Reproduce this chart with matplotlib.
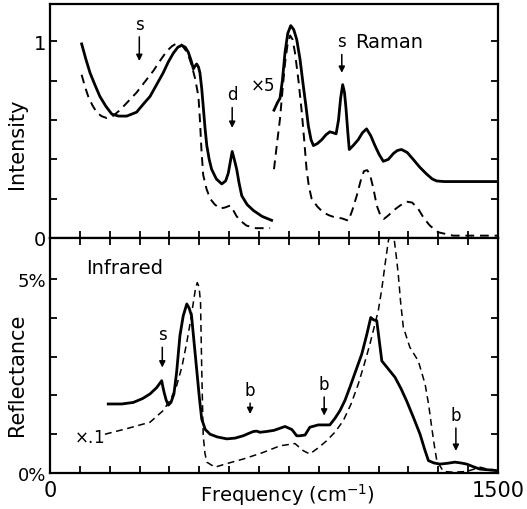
import numpy as np
import matplotlib
matplotlib.use('Agg')
import matplotlib.pyplot as plt

# ---- Raman, low-frequency part (x1) ----
raman_lo_x_solid = [106, 120, 134, 150, 167, 187, 207, 230, 257, 290, 312, 335, 357, 379, 396, 413, 428, 441, 453, 463, 473, 480, 486, 491, 497, 502, 508, 513, 519, 525, 533, 541, 557, 575, 588, 597, 604, 610, 617, 625, 633, 642, 660, 681, 710, 742]
raman_lo_y_solid = [0.987, 0.91, 0.84, 0.78, 0.72, 0.67, 0.63, 0.62, 0.62, 0.64, 0.68, 0.72, 0.78, 0.84, 0.895, 0.94, 0.97, 0.98, 0.97, 0.945, 0.90, 0.86, 0.875, 0.885, 0.87, 0.84, 0.76, 0.67, 0.56, 0.47, 0.40, 0.35, 0.30, 0.275, 0.29, 0.33, 0.39, 0.44, 0.40, 0.35, 0.28, 0.215, 0.17, 0.14, 0.11, 0.09]
raman_lo_x_dash = [106, 117, 128, 142, 156, 172, 190, 210, 234, 262, 290, 318, 346, 370, 391, 408, 424, 438, 452, 463, 474, 486, 497, 502, 507, 513, 524, 536, 552, 569, 586, 603, 614, 625, 640, 658, 690, 737]
raman_lo_y_dash = [0.83, 0.77, 0.72, 0.675, 0.64, 0.62, 0.61, 0.62, 0.65, 0.695, 0.74, 0.795, 0.85, 0.905, 0.95, 0.975, 0.99, 0.985, 0.96, 0.93, 0.88, 0.81, 0.72, 0.60, 0.45, 0.32, 0.25, 0.20, 0.17, 0.15, 0.155, 0.165, 0.14, 0.11, 0.085, 0.063, 0.05, 0.05]

# ---- Raman, high-frequency part (x5) ----
raman_hi_x_solid = [750, 762, 770, 778, 787, 796, 806, 816, 826, 837, 848, 857, 865, 874, 882, 895, 910, 924, 937, 948, 958, 966, 973, 980, 986, 991, 997, 1002, 1015, 1032, 1046, 1060, 1074, 1088, 1102, 1116, 1133, 1150, 1163, 1177, 1196, 1216, 1238, 1261, 1280, 1295, 1320, 1400, 1500]
raman_hi_y_solid = [0.65, 0.69, 0.71, 0.80, 0.945, 1.04, 1.08, 1.06, 1.01, 0.91, 0.775, 0.67, 0.57, 0.50, 0.47, 0.48, 0.50, 0.525, 0.54, 0.535, 0.53, 0.60, 0.71, 0.78, 0.74, 0.66, 0.54, 0.45, 0.47, 0.50, 0.535, 0.555, 0.52, 0.47, 0.425, 0.39, 0.40, 0.43, 0.445, 0.45, 0.435, 0.40, 0.36, 0.325, 0.30, 0.29, 0.287, 0.287, 0.287]
raman_hi_x_dash = [750, 760, 770, 779, 787, 795, 804, 812, 820, 832, 843, 851, 859, 867, 876, 895, 915, 935, 954, 977, 999, 1012, 1027, 1040, 1051, 1062, 1071, 1083, 1094, 1105, 1118, 1133, 1150, 1172, 1194, 1213, 1233, 1252, 1272, 1300, 1350, 1500]
raman_hi_y_dash = [0.35, 0.48, 0.605, 0.76, 0.89, 0.98, 1.03, 1.01, 0.945, 0.80, 0.64, 0.50, 0.35, 0.26, 0.20, 0.16, 0.13, 0.115, 0.105, 0.10, 0.088, 0.14, 0.215, 0.29, 0.34, 0.345, 0.325, 0.25, 0.165, 0.12, 0.097, 0.115, 0.14, 0.165, 0.185, 0.18, 0.148, 0.10, 0.063, 0.029, 0.012, 0.012]

# ---- Infrared reflectance (%) ----
ir_x_solid = [195, 240, 279, 310, 335, 357, 374, 378, 382, 389, 396, 405, 415, 424, 435, 446, 458, 466, 474, 482, 491, 500, 508, 520, 536, 560, 592, 620, 647, 665, 681, 692, 703, 725, 750, 787, 810, 826, 837, 854, 870, 898, 937, 955, 971, 988, 1004, 1024, 1044, 1060, 1074, 1083, 1094, 1111, 1133, 1155, 1175, 1194, 1217, 1239, 1254, 1267, 1285, 1306, 1330, 1356, 1375, 1395, 1418, 1440, 1470, 1495]
ir_y_solid = [1.78, 1.78, 1.82, 1.92, 2.04, 2.20, 2.38, 2.22, 2.08, 1.88, 1.75, 1.82, 2.04, 2.60, 3.54, 4.05, 4.36, 4.25, 4.05, 3.40, 2.68, 1.95, 1.39, 1.12, 1.00, 0.93, 0.88, 0.90, 0.96, 1.02, 1.07, 1.08, 1.05, 1.07, 1.10, 1.20, 1.12, 0.96, 0.96, 0.98, 1.18, 1.24, 1.24, 1.42, 1.61, 1.88, 2.21, 2.64, 3.07, 3.55, 4.01, 3.95, 3.93, 2.89, 2.68, 2.47, 2.18, 1.86, 1.43, 1.00, 0.62, 0.32, 0.26, 0.23, 0.25, 0.28, 0.26, 0.23, 0.16, 0.10, 0.08, 0.06]
ir_x_dash = [184, 260, 335, 379, 404, 424, 442, 458, 470, 480, 487, 493, 499, 504, 508, 513, 519, 525, 552, 600, 647, 710, 770, 820, 848, 870, 900, 926, 955, 982, 1008, 1032, 1052, 1071, 1085, 1099, 1111, 1122, 1133, 1143, 1153, 1160, 1166, 1174, 1183, 1205, 1233, 1256, 1268, 1278, 1287, 1295, 1317, 1350, 1395, 1420, 1440, 1465, 1495]
ir_y_dash = [1.00, 1.15, 1.31, 1.61, 1.90, 2.25, 2.75, 3.37, 3.90, 4.40, 4.75, 4.91, 4.80, 4.40, 2.68, 0.96, 0.50, 0.28, 0.15, 0.26, 0.36, 0.52, 0.70, 0.76, 0.575, 0.49, 0.66, 0.83, 1.06, 1.35, 1.78, 2.29, 2.80, 3.32, 3.75, 4.18, 4.75, 5.39, 5.99, 6.25, 5.99, 5.55, 5.13, 4.40, 3.76, 3.24, 2.89, 2.29, 1.75, 1.18, 0.70, 0.32, 0.04, 0.02, 0.04, 0.10, 0.15, 0.10, 0.08]

x_ticks = list(range(0, 1600, 100))
x_ticklabels = ['0'] + [''] * 14 + ['1500']
int_ticks = [0, 0.2, 0.4, 0.6, 0.8, 1.0]
int_ticklabels = ['0', '', '', '', '', '1']
ref_ticks = [0, 1, 2, 3, 4, 5]
ref_ticklabels = ['0%', '', '', '', '', '5%']

fig = plt.figure(figsize=(5.27, 5.10), dpi=100)
ax1 = fig.add_axes([50/527, 1-239/510, 448/527, 234/510])
ax2 = fig.add_axes([50/527, 1-474/510, 448/527, 235/510], sharex=ax1)

lw_s = 2.0
dash = (0, (4.5, 3))

ax1.plot(raman_lo_x_solid, raman_lo_y_solid, 'k-', lw=lw_s)
ax1.plot(raman_lo_x_dash, raman_lo_y_dash, 'k', ls=dash, lw=1.4)
ax1.plot(raman_hi_x_solid, raman_hi_y_solid, 'k-', lw=lw_s)
ax1.plot(raman_hi_x_dash, raman_hi_y_dash, 'k', ls=dash, lw=1.4)

ax2.plot(ir_x_solid, ir_y_solid, 'k-', lw=lw_s)
ax2.plot(ir_x_dash, ir_y_dash, 'k', ls=dash, lw=1.1)

ax1.set_xlim(0, 1500)
ax1.set_ylim(0, 1.19)
ax2.set_ylim(0, 6.06)

ax1.set_yticks(int_ticks)
ax1.set_yticklabels(int_ticklabels, fontsize=14)
ax2.set_yticks(ref_ticks)
ax2.set_yticklabels(ref_ticklabels, fontsize=13)
ax2.set_xticks(x_ticks)
ax2.set_xticklabels(x_ticklabels, fontsize=15)

ax1.tick_params(axis='both', direction='in', length=5, width=1.3,
                left=True, right=True, top=False, bottom=True,
                labelbottom=False, pad=3)
ax2.tick_params(axis='both', direction='in', length=5, width=1.3,
                left=True, right=True, top=True, bottom=True, pad=3)
ax2.tick_params(axis='x', pad=5)

for ax in (ax1, ax2):
    for sp in ax.spines.values():
        sp.set_linewidth(1.6)

ax2.set_xlabel(r'Frequency (cm$^{-1}$)', fontsize=14)
ax2.xaxis.set_label_coords(0.53, -0.035)
fig.text(17/527, 1-144/510, 'Intensity', rotation=90, fontsize=15, ha='center', va='center')
fig.text(17/527, 1-375/510, 'Reflectance', rotation=90, fontsize=15, ha='center', va='center')

arr = dict(arrowstyle='-|>', color='k', lw=1.1, mutation_scale=9, shrinkA=1, shrinkB=0)

# top panel labels
ax1.annotate('s', xy=(299, 0.90), xytext=(299, 1.09), fontsize=12, ha='center', va='center', arrowprops=arr)
ax1.annotate('d', xy=(610, 0.56), xytext=(610, 0.73), fontsize=12, ha='center', va='center', arrowprops=arr)
ax1.annotate('s', xy=(977, 0.84), xytext=(977, 1.0), fontsize=12, ha='center', va='center', arrowprops=arr)
ax1.text(710, 0.78, r'$\times$5', fontsize=12, ha='center', va='center')
ax1.text(1020, 1.0, 'Raman', fontsize=14, ha='left', va='center')

# bottom panel labels
ax2.annotate('s', xy=(376, 2.72), xytext=(376, 3.58), fontsize=12, ha='center', va='center', arrowprops=arr)
ax2.annotate('b', xy=(670, 1.52), xytext=(670, 2.14), fontsize=12, ha='center', va='center', arrowprops=arr)
ax2.annotate('b', xy=(918, 1.48), xytext=(918, 2.30), fontsize=12, ha='center', va='center', arrowprops=arr)
ax2.annotate('b', xy=(1359, 0.57), xytext=(1359, 1.50), fontsize=12, ha='center', va='center', arrowprops=arr)
ax2.text(120, 5.3, 'Infrared', fontsize=14, ha='left', va='center')
ax2.text(130, 0.92, r'$\times$.1', fontsize=12, ha='center', va='center')

fig.savefig('out.png', dpi=100)
